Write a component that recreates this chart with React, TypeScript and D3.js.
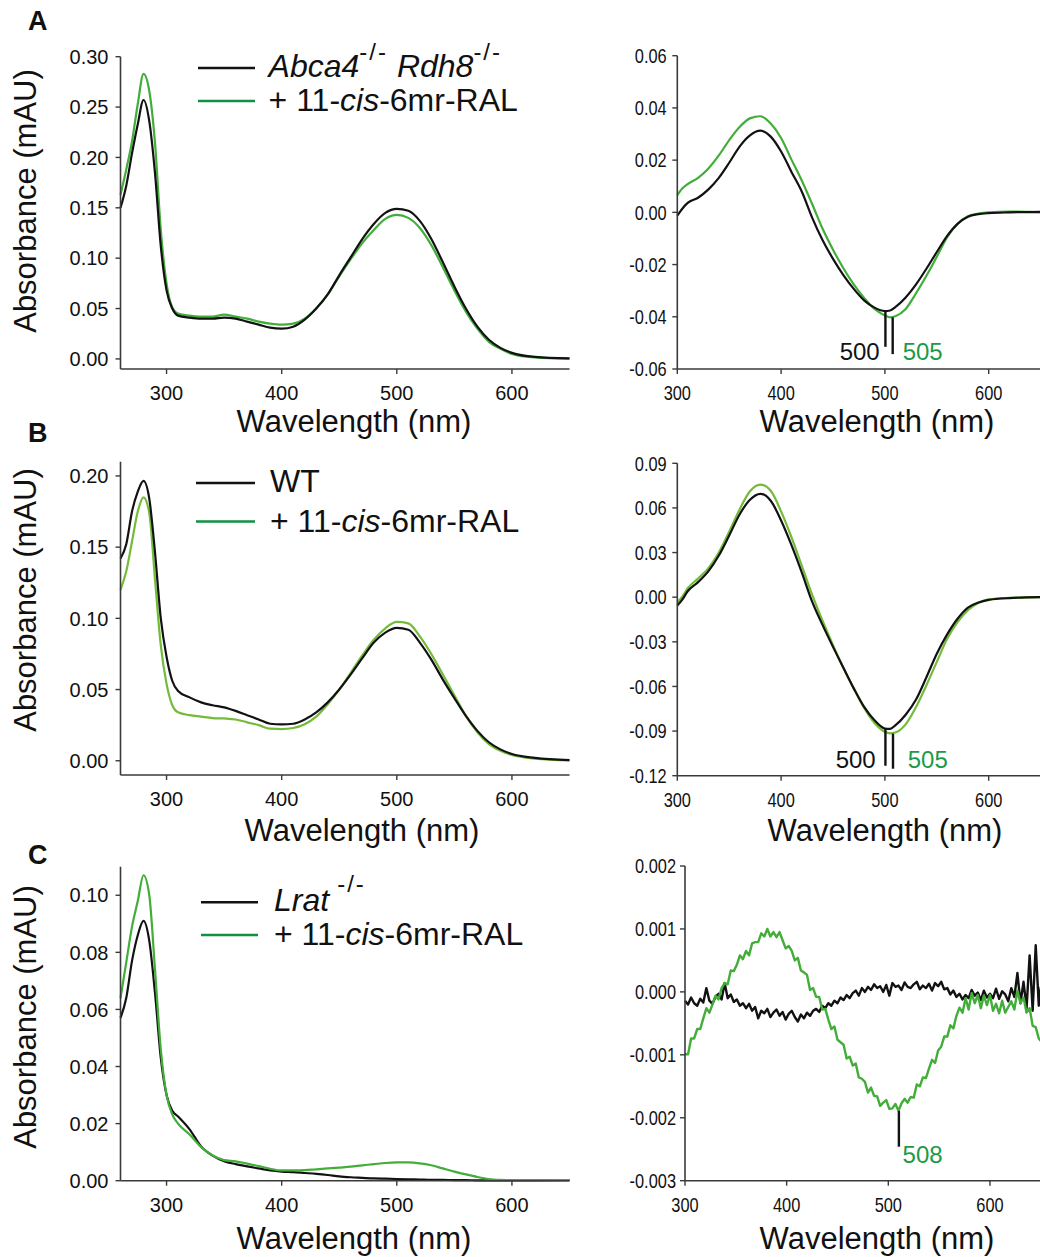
import React from 'react';
import * as d3 from 'd3';

// ---- wavelength grids (nm) ----
const specNm = [260, 265, 270, 275, 280, 285, 290, 295, 300, 305, 310, 320, 330, 340, 350, 360, 370, 380, 390, 400, 410, 420, 430, 440, 450, 460, 470, 480, 490, 500, 510, 520, 530, 540, 550, 560, 570, 580, 590, 600, 620, 650];
const diffNm = [300, 305, 310, 320, 330, 340, 350, 360, 370, 380, 390, 400, 410, 420, 430, 440, 450, 460, 470, 480, 490, 500, 505, 510, 520, 530, 540, 550, 560, 570, 580, 590, 600, 620, 650];
const noisyNm = [300, 303, 306, 309, 312, 315, 318, 321, 324, 327, 330, 333, 336, 339, 342, 345, 348, 351, 354, 357, 360, 363, 366, 369, 372, 375, 378, 381, 384, 387, 390, 393, 396, 399, 402, 405, 408, 411, 414, 417, 420, 423, 426, 429, 432, 435, 438, 441, 444, 447, 450, 453, 456, 459, 462, 465, 468, 471, 474, 477, 480, 483, 486, 489, 492, 495, 498, 501, 504, 507, 510, 513, 516, 519, 522, 525, 528, 531, 534, 537, 540, 543, 546, 549, 552, 555, 558, 561, 564, 567, 570, 573, 576, 579, 582, 585, 588, 591, 594, 597, 600, 603, 606, 609, 612, 615, 618, 621, 624, 627, 630, 633, 636, 639, 642, 645, 648, 650];

// ---- absorbance spectra (left column) ----
const absA_mouse = [0.150, 0.172, 0.204, 0.233, 0.257, 0.236, 0.184, 0.112, 0.068, 0.050, 0.043, 0.041, 0.040, 0.040, 0.041, 0.040, 0.037, 0.034, 0.031, 0.030, 0.032, 0.039, 0.050, 0.064, 0.083, 0.101, 0.119, 0.134, 0.145, 0.149, 0.147, 0.137, 0.119, 0.096, 0.072, 0.050, 0.032, 0.019, 0.011, 0.006, 0.002, 0.0005];
const absA_treated = [0.163, 0.188, 0.216, 0.253, 0.283, 0.266, 0.214, 0.128, 0.075, 0.051, 0.045, 0.043, 0.042, 0.042, 0.044, 0.042, 0.040, 0.037, 0.035, 0.034, 0.035, 0.040, 0.050, 0.064, 0.082, 0.099, 0.115, 0.128, 0.139, 0.143, 0.140, 0.130, 0.113, 0.091, 0.068, 0.047, 0.030, 0.017, 0.010, 0.005, 0.0015, 0.0003];
const absB_mouse = [0.142, 0.152, 0.175, 0.189, 0.1965, 0.184, 0.146, 0.100, 0.073, 0.056, 0.049, 0.0445, 0.041, 0.039, 0.0375, 0.035, 0.032, 0.029, 0.026, 0.0255, 0.026, 0.029, 0.034, 0.041, 0.050, 0.0606, 0.072, 0.083, 0.090, 0.0933, 0.092, 0.083, 0.071, 0.057, 0.044, 0.0315, 0.021, 0.013, 0.008, 0.0047, 0.002, 0.0005];
const absB_treated = [0.120, 0.133, 0.154, 0.175, 0.185, 0.174, 0.127, 0.081, 0.054, 0.039, 0.034, 0.032, 0.031, 0.030, 0.0297, 0.029, 0.027, 0.025, 0.0225, 0.0222, 0.023, 0.0257, 0.031, 0.0397, 0.050, 0.0618, 0.074, 0.085, 0.093, 0.0975, 0.0965, 0.0874, 0.075, 0.0606, 0.046, 0.0315, 0.020, 0.0117, 0.007, 0.004, 0.0015, 0.0003];
const absC_mouse = [0.057, 0.064, 0.077, 0.086, 0.091, 0.084, 0.0656, 0.043, 0.030, 0.0245, 0.0225, 0.018, 0.012, 0.0088, 0.0068, 0.0058, 0.005, 0.0043, 0.0036, 0.0032, 0.003, 0.0027, 0.0024, 0.002, 0.0015, 0.0012, 0.001, 0.0008, 0.0007, 0.0006, 0.0005, 0.0004, 0.0003, 0.0003, 0.0002, 0.0002, 0.0001, 0.0001, 0.0001, 0.0001, 0.0001, 0.0002];
const absC_treated = [0.064, 0.0765, 0.089, 0.098, 0.107, 0.100, 0.0738, 0.046, 0.030, 0.0232, 0.020, 0.0162, 0.0118, 0.0088, 0.0072, 0.0068, 0.006, 0.0051, 0.0042, 0.0036, 0.0036, 0.0037, 0.0040, 0.0043, 0.0046, 0.0049, 0.0054, 0.0058, 0.0062, 0.0064, 0.0064, 0.0061, 0.0054, 0.0043, 0.0032, 0.0022, 0.0013, 0.0006, 0.0003, 0.0002, 0.0002, 0.0002];

// ---- difference spectra (right column) ----
const diffA_mouse = [-0.0013, 0.0015, 0.0036, 0.0056, 0.0088, 0.0132, 0.019, 0.0252, 0.0295, 0.0313, 0.0290, 0.0233, 0.0155, 0.0079, -0.0021, -0.0107, -0.0178, -0.0240, -0.0293, -0.0337, -0.0365, -0.0378, -0.0376, -0.0363, -0.0326, -0.0276, -0.0216, -0.0152, -0.0090, -0.0044, -0.0017, -0.0007, -0.0003, 0.0, 0.0002];
const diffA_treated = [0.0066, 0.0092, 0.0108, 0.0132, 0.0168, 0.0218, 0.0277, 0.0327, 0.0360, 0.0368, 0.0340, 0.0285, 0.0202, 0.0121, 0.0031, -0.0063, -0.0143, -0.0214, -0.0276, -0.0328, -0.0370, -0.0395, -0.0402, -0.0398, -0.0370, -0.0310, -0.0243, -0.0170, -0.0095, -0.0044, -0.0015, -0.0005, 0.0, 0.0003, 0.0];
const diffB_mouse = [-0.0056, -0.0015, 0.0040, 0.0101, 0.0175, 0.0280, 0.0415, 0.0556, 0.0655, 0.0695, 0.0648, 0.0516, 0.0350, 0.0165, -0.0032, -0.0188, -0.0334, -0.0474, -0.0613, -0.0738, -0.0828, -0.0883, -0.0885, -0.0862, -0.0790, -0.0688, -0.0538, -0.0380, -0.0250, -0.0145, -0.0070, -0.0036, -0.0018, -0.0006, 0.0];
const diffB_treated = [-0.0034, 0.0005, 0.0060, 0.0125, 0.0195, 0.0300, 0.0440, 0.0590, 0.0712, 0.0757, 0.0715, 0.0577, 0.0403, 0.0210, 0.0015, -0.0160, -0.0322, -0.0474, -0.0613, -0.0745, -0.0846, -0.0905, -0.0915, -0.0910, -0.0855, -0.0738, -0.0592, -0.0435, -0.0280, -0.0168, -0.0088, -0.0040, -0.0015, -0.0005, 0.0];
const diffC_mouse = [-0.00014, -0.00020, -0.00009, -0.00018, -0.00022, -0.00011, -0.00017, 0.00006, -0.00014, -0.00019, -0.00008, -0.00003, -0.00012, 0.00014, -0.00010, -0.00004, -0.00016, -0.00012, -0.00022, -0.00018, -0.00026, -0.00019, -0.00030, -0.00024, -0.00042, -0.00030, -0.00034, -0.00027, -0.00040, -0.00033, -0.00028, -0.00038, -0.00032, -0.00044, -0.00035, -0.00030, -0.00040, -0.00047, -0.00036, -0.00042, -0.00033, -0.00038, -0.00030, -0.00027, -0.00032, -0.00022, -0.00026, -0.00018, -0.00022, -0.00014, -0.00018, -0.00009, -0.00013, -0.00005, -0.00010, -0.00002, 0.00002, -0.00006, 0.00006, 0.0, 0.00008, 0.00003, 0.00012, 0.00006, 0.00009, 0.0, 0.00011, -0.00006, 0.00014, 0.00008, 0.00010, 0.00003, 0.00015, 0.00008, 0.00006, 0.00012, 0.00016, 0.00004, 0.00010, 0.00006, 0.00013, 0.00002, 0.00014, 0.00009, 0.00016, 0.00004, 0.00006, -0.00004, 0.00002, -0.00008, -0.00003, -0.00012, -0.00005, -0.00010, 0.00003, -0.00006, -0.00001, -0.00013, 0.00002, -0.00009, -0.00003, -0.00010, 0.00005, -0.00011, 0.00001, -0.00004, -0.00015, 0.00006, -0.00008, 0.00030, -0.00018, 0.00016, -0.00026, 0.00058, -0.00030, 0.00074, -0.00022, 0.00008];
const diffC_treated = [-0.00099, -0.00099, -0.00074, -0.00074, -0.00059, -0.00059, -0.00042, -0.00026, -0.00033, -0.00020, -0.00006, -0.00012, 0.00006, 0.00014, 0.00012, 0.00034, 0.00033, 0.00043, 0.00058, 0.00052, 0.00065, 0.00058, 0.00077, 0.00079, 0.00079, 0.00093, 0.00088, 0.00100, 0.00088, 0.00095, 0.00087, 0.00095, 0.00082, 0.00069, 0.00073, 0.00065, 0.00050, 0.00054, 0.00034, 0.00031, 0.00027, 0.00003, 0.00006, -0.00008, -0.00008, -0.00028, -0.00027, -0.00044, -0.00059, -0.00055, -0.00076, -0.00080, -0.00084, -0.00106, -0.00103, -0.00117, -0.00114, -0.00136, -0.00138, -0.00143, -0.00160, -0.00152, -0.00165, -0.00166, -0.00181, -0.00176, -0.00172, -0.00186, -0.00185, -0.00178, -0.00189, -0.00177, -0.00170, -0.00176, -0.00167, -0.00168, -0.00147, -0.00150, -0.00136, -0.00137, -0.00122, -0.00108, -0.00113, -0.00093, -0.00087, -0.00071, -0.00071, -0.00053, -0.00058, -0.00038, -0.00025, -0.00033, -0.00010, -0.00028, -0.00002, -0.00018, -0.00005, -0.00026, -0.00006, -0.00021, -0.00005, -0.00030, -0.00019, -0.00034, -0.00014, -0.00033, -0.00024, -0.00015, -0.00028, 0.00002, -0.00018, -0.00009, -0.00033, -0.00026, -0.00054, -0.00056, -0.00074, -0.00078];

// ---- axis ticks ----
const wlTicks = [300, 400, 500, 600];
const absTicksA = [0, 0.05, 0.1, 0.15, 0.2, 0.25, 0.3];
const absTicksB = [0, 0.05, 0.1, 0.15, 0.2];
const absTicksC = [0, 0.02, 0.04, 0.06, 0.08, 0.1];
const diffTicksA = [-0.06, -0.04, -0.02, 0, 0.02, 0.04, 0.06];
const diffTicksB = [-0.12, -0.09, -0.06, -0.03, 0, 0.03, 0.06, 0.09];
const diffTicksC = [-0.003, -0.002, -0.001, 0, 0.001, 0.002];

// λmax markers: wavelength, value at the curve, value at the line end
const marksA = [{ nm: 500.5, from: -0.0378, to: -0.0515, label: '500', side: 'left' }, { nm: 507.5, from: -0.0402, to: -0.0543, label: '505', side: 'right' }];
const marksB = [{ nm: 500.5, from: -0.0883, to: -0.1133, label: '500', side: 'left' }, { nm: 507.8, from: -0.0917, to: -0.1153, label: '505', side: 'right' }];
const marksC = [{ nm: 510.4, from: -0.00189, to: -0.00246, label: '508', side: 'right' }];

const DARK = '#121212';
const AXIS = '#3a3a3a';
const LEG_GREEN = '#0f9140';
const TXT_GREEN = '#1c9a48';
const FONT = "'Liberation Sans', Arial, sans-serif";

const fmt = (dec) => (v) => (Math.abs(v) < 1e-12 ? 0 : v).toFixed(dec);

function Panel({ p }) {
  const x = d3.scaleLinear().domain(p.xDomain).range([p.left, p.right]);
  const y = d3.scaleLinear().domain(p.yDomain).range([p.bottom, p.top]);
  const line = d3.line().x((d) => x(d[0])).y((d) => y(d[1])).curve(p.noisy ? d3.curveLinear : d3.curveMonotoneX);
  const sx = p.narrow ? 0.82 : 1;
  return (
    <g>
      {p.series.map((s, i) => (
        <path key={i} d={line(s.nm.map((n, j) => [n, s.values[j]]))} fill="none" stroke={s.color} strokeWidth={p.noisy ? 2.4 : 2.2} strokeLinejoin="round" />
      ))}
      {/* axes */}
      <line x1={p.left} x2={p.left} y1={y(p.yDomain[1])} y2={p.bottom} stroke={AXIS} strokeWidth={1.6} />
      <line x1={p.left} x2={p.right} y1={p.bottom} y2={p.bottom} stroke={AXIS} strokeWidth={1.6} />
      {p.yTicks.map((t) => (
        <g key={'y' + t}>
          <line x1={p.left - 5} x2={p.left} y1={y(t)} y2={y(t)} stroke={AXIS} strokeWidth={1.4} />
          <text transform={`translate(${p.left - p.yLabelGap},${y(t)}) scale(${sx},1)`} dy="0.36em" textAnchor="end" fontSize={20} fontFamily={FONT} fill="#111">
            {p.yFmt(t)}
          </text>
        </g>
      ))}
      {wlTicks.map((t) => (
        <g key={'x' + t}>
          <line x1={x(t)} x2={x(t)} y1={p.bottom} y2={p.bottom + 5} stroke={AXIS} strokeWidth={1.4} />
          <text transform={`translate(${x(t)},${p.bottom + 31}) scale(${sx},1)`} textAnchor="middle" fontSize={20} fontFamily={FONT} fill="#111">
            {t}
          </text>
        </g>
      ))}
      <text x={p.xTitleX} y={p.xTitleY} textAnchor="middle" fontSize={31} fontFamily={FONT} fill="#111">
        Wavelength (nm)
      </text>
      {p.yTitleY != null && (
        <text transform={`translate(36,${p.yTitleY}) rotate(-90)`} textAnchor="middle" fontSize={31} fontFamily={FONT} fill="#111">
          Absorbance (mAU)
        </text>
      )}
      {(p.marks || []).map((m, i) => {
        const mx = x(m.nm);
        return (
          <g key={'m' + i}>
            <line x1={mx} x2={mx} y1={y(m.from)} y2={y(m.to)} stroke={DARK} strokeWidth={2.4} />
            <text
              x={m.side === 'left' ? mx - p.markGapL : mx + p.markGapR}
              y={p.markBaseline}
              textAnchor={m.side === 'left' ? 'end' : 'start'}
              fontSize={24}
              fontFamily={FONT}
              fill={m.side === 'left' ? DARK : TXT_GREEN}
            >
              {m.label}
            </text>
          </g>
        );
      })}
    </g>
  );
}

function Legend({ x1, x2, tx, yDark, yGreen, dark }) {
  return (
    <g fontFamily={FONT} fontSize={32} fill="#111">
      <line x1={x1} x2={x2} y1={yDark} y2={yDark} stroke={DARK} strokeWidth={2.6} />
      <line x1={x1} x2={x2} y1={yGreen} y2={yGreen} stroke={LEG_GREEN} strokeWidth={2.6} />
      <text x={tx} y={yDark + 9}>{dark}</text>
      <text x={tx} y={yGreen + 10}>
        + 11-<tspan fontStyle="italic">cis</tspan>-6mr-RAL
      </text>
    </g>
  );
}

export default function App() {
  const left = { xDomain: [260, 650], left: 120.5, right: 569.5, yLabelGap: 12, narrow: false };
  const right = { xDomain: [300, 650], narrow: true };
  const greenA = '#42ad3b';
  const greenB = '#74bb3a';
  const greenC = '#43ad3a';

  const panels = [
    { ...left, top: 56.7, bottom: 369, yDomain: [-0.01, 0.3], yTicks: absTicksA, yFmt: fmt(2), xTitleX: 354, xTitleY: 432, yTitleY: 201,
      series: [{ nm: specNm, values: absA_treated, color: greenA }, { nm: specNm, values: absA_mouse, color: DARK }] },
    { ...left, top: 461.7, bottom: 775, yDomain: [-0.01, 0.21], yTicks: absTicksB, yFmt: fmt(2), xTitleX: 362, xTitleY: 841, yTitleY: 600,
      series: [{ nm: specNm, values: absB_treated, color: greenB }, { nm: specNm, values: absB_mouse, color: DARK }] },
    { ...left, top: 866.7, bottom: 1180.7, yDomain: [0, 0.11], yTicks: absTicksC, yFmt: fmt(2), xTitleX: 354, xTitleY: 1249, yTitleY: 1017,
      series: [{ nm: specNm, values: absC_mouse, color: DARK }, { nm: specNm, values: absC_treated, color: greenC }] },
    { ...right, left: 677.3, right: 1040.6, top: 55.7, bottom: 369, yDomain: [-0.06, 0.06], yTicks: diffTicksA, yFmt: fmt(2), yLabelGap: 10.6,
      xTitleX: 877, xTitleY: 432, marks: marksA, markGapL: 5.7, markGapR: 10, markBaseline: 360,
      series: [{ nm: diffNm, values: diffA_treated, color: greenA }, { nm: diffNm, values: diffA_mouse, color: DARK }] },
    { ...right, left: 677.3, right: 1040.6, top: 463.3, bottom: 775.7, yDomain: [-0.12, 0.09], yTicks: diffTicksB, yFmt: fmt(2), yLabelGap: 10.6,
      xTitleX: 885, xTitleY: 841, marks: marksB, markGapL: 9.7, markGapR: 14.7, markBaseline: 768,
      series: [{ nm: diffNm, values: diffB_treated, color: greenB }, { nm: diffNm, values: diffB_mouse, color: DARK }] },
    { ...right, left: 685, right: 1040.8, top: 866, bottom: 1180.7, yDomain: [-0.003, 0.002], yTicks: diffTicksC, yFmt: fmt(3), yLabelGap: 9,
      xTitleX: 877, xTitleY: 1249, marks: marksC, markGapL: 0, markGapR: 3.7, markBaseline: 1163, noisy: true,
      series: [{ nm: noisyNm, values: diffC_mouse, color: DARK }, { nm: noisyNm, values: diffC_treated, color: greenC }] },
  ];

  return (
    <svg width={1040} height={1257} style={{ position: 'absolute', left: 0, top: 0, background: '#fff' }}>
      <rect width={1040} height={1257} fill="#fff" />
      {panels.map((p, i) => <Panel key={i} p={p} />)}

      {/* panel letters */}
      <g fontFamily={FONT} fontWeight="bold" fontSize={27} fill="#111">
        <text x={28} y={30}>A</text>
        <text x={28} y={442}>B</text>
        <text x={28} y={864}>C</text>
      </g>

      <Legend x1={198} x2={255} tx={268.6} yDark={68} yGreen={101}
        dark={<>
          <tspan fontStyle="italic">Abca4</tspan>
          <tspan dy={-17} fontSize={24} letterSpacing={2}>-/-</tspan>
          <tspan dy={17} fontStyle="italic"> Rdh8</tspan>
          <tspan dy={-17} fontSize={24} letterSpacing={2}>-/-</tspan>
        </>} />
      <Legend x1={196} x2={255} tx={270} yDark={483} yGreen={521.5} dark={<tspan>WT</tspan>} />
      <Legend x1={201} x2={258} tx={274} yDark={902.3} yGreen={935}
        dark={<>
          <tspan fontStyle="italic">Lrat</tspan>
          <tspan dx={8} dy={-19} fontSize={24} letterSpacing={2}>-/-</tspan>
        </>} />
    </svg>
  );
}
